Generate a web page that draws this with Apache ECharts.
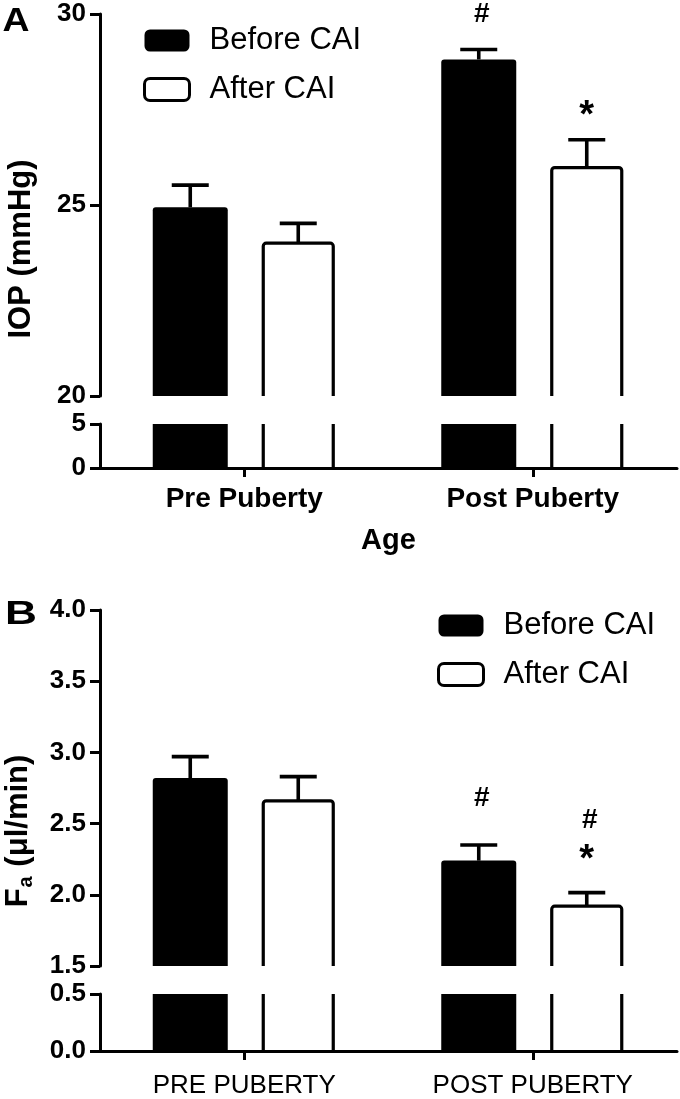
<!DOCTYPE html>
<html><head><meta charset="utf-8">
<script src="https://cdn.jsdelivr.net/npm/echarts@6/dist/echarts.min.js"></script>
<style>html,body{margin:0;padding:0;background:#fff}#c{width:680px;height:1099px}</style>
</head><body><div id="c"></div>
<script>
// ---------- data ----------
const categoriesA = ['Pre Puberty', 'Post Puberty'];
const iopBefore = [24.94, 28.81];
const iopBeforeErr = [0.58, 0.26];
const iopAfter = [24.0, 25.98];
const iopAfterErr = [0.52, 0.73];
const ticksA_top = [20, 25, 30];
const ticksA_bottom = [0, 5];

const categoriesB = ['PRE PUBERTY', 'POST PUBERTY'];
const faBefore = [2.82, 2.24];
const faBeforeErr = [0.15, 0.11];
const faAfter = [2.66, 1.92];
const faAfterErr = [0.17, 0.095];
const ticksB_top = [1.5, 2.0, 2.5, 3.0, 3.5, 4.0];
const ticksB_bottom = [0.0, 0.5];

const seriesNames = ['Before CAI', 'After CAI'];
// significance marks: [category index, series index, mark]
const marksA = [[1, 0, '#'], [1, 1, '*']];
const marksB = [[1, 0, '#'], [1, 1, '#'], [1, 1, '*']];

// ---------- styles ----------
const FONT = "'Liberation Sans', Arial, Helvetica, sans-serif";
const BAR_OFFSET = [-54, 54];
const BAR_WIDTH = [75, 70];
const CAP_W = 37;
const markOffsetA = [-35, -23];
const markOffsetB = [-47, -72, -32];

const grids = [
  { left: 100, top: 14, width: 577, height: 382 },
  { left: 100, top: 424, width: 577, height: 44 },
  { left: 100, top: 610, width: 577, height: 356 },
  { left: 100, top: 994, width: 577, height: 61 }
];

function pairs(vals, errs) {
  return vals.map((v, i) => errs ? [i, v, errs[i]] : [i, v]);
}

function barRender(si, topGrid) {
  return function (params, api) {
    const c = api.value(0), v = api.value(1);
    const top = api.coord([c, v]);
    const base = api.coord([c, 0]);
    const w = BAR_WIDTH[si];
    const r = topGrid ? [3, 3, 0, 0] : 0;
    const style = si === 0
      ? { fill: '#000', stroke: null }
      : { fill: '#fff', stroke: '#000', lineWidth: 3.2 };
    return {
      type: 'rect',
      shape: { x: top[0] + BAR_OFFSET[si] - w / 2, y: top[1], width: w, height: base[1] - top[1] + 6, r: r },
      style: style
    };
  };
}

function errRender(si) {
  return function (params, api) {
    const c = api.value(0), v = api.value(1), e = api.value(2);
    const p0 = api.coord([c, v]);
    const p1 = api.coord([c, v + e]);
    const x = p0[0] + BAR_OFFSET[si];
    const st = { stroke: '#000', lineWidth: 3.6 };
    return {
      type: 'group', children: [
        { type: 'line', shape: { x1: x, y1: p0[1], x2: x, y2: p1[1] }, style: st },
        { type: 'line', shape: { x1: x - CAP_W / 2, y1: p1[1], x2: x + CAP_W / 2, y2: p1[1] }, style: st }
      ]
    };
  };
}

function markRender(marks, offsets, vals, errs) {
  return function (params, api) {
    const i = params.dataIndex;
    const m = marks[i];
    const c = m[0], si = m[1];
    const v = vals[si][c] + errs[si][c];
    const p = api.coord([c, v]);
    const isStar = m[2] === '*';
    return {
      type: 'text',
      x: p[0] + BAR_OFFSET[si] + (isStar ? 0 : 3),
      y: p[1] + offsets[i],
      style: {
        text: m[2], fill: '#000', align: 'center', verticalAlign: 'middle',
        font: (isStar ? 'bold 38px ' : 'bold 28px ') + FONT
      }
    };
  };
}

function yAxis(gi, ticks, labelFmt) {
  const step = ticks.length > 1 ? ticks[1] - ticks[0] : 1;
  return {
    type: 'value', gridIndex: gi, z: 10,
    min: ticks[0], max: ticks[ticks.length - 1], interval: step,
    axisLine: { show: true, lineStyle: { color: '#000', width: 3 } },
    axisTick: { show: true, length: 10, lineStyle: { color: '#000', width: 3 } },
    splitLine: { show: false },
    axisLabel: {
      color: '#000', fontFamily: FONT, fontWeight: 'bold', fontSize: 26, margin: 14,
      formatter: labelFmt
    }
  };
}

function xAxis(gi, cats, shown, labelStyle, name) {
  return {
    type: 'category', gridIndex: gi, data: cats, show: shown, z: 10,
    axisLine: { show: true, lineStyle: { color: '#000', width: 3 } },
    axisTick: { show: true, alignWithLabel: true, length: 9, lineStyle: { color: '#000', width: 3 } },
    axisLabel: Object.assign({ color: '#000', fontFamily: FONT, interval: 0 }, labelStyle),
    name: name || '',
    nameLocation: 'middle',
    nameGap: 58,
    nameTextStyle: { color: '#000', fontFamily: FONT, fontWeight: 'bold', fontSize: 29 }
  };
}

const fmt0 = v => String(v);
const fmt1 = v => v.toFixed(1);

const series = [];
function addPanel(topG, botG, before, beforeErr, after, afterErr, marks, offsets) {
  [topG, botG].forEach(gi => {
    const isTop = gi === topG;
    [before, after].forEach((vals, si) => {
      series.push({
        type: 'custom', name: seriesNames[si], xAxisIndex: gi, yAxisIndex: gi,
        clip: true, renderItem: barRender(si, isTop),
        itemStyle: { color: si === 0 ? '#000' : '#fff' },
        encode: { x: 0, y: 1 },
        data: pairs(vals), silent: true
      });
    });
    if (isTop) {
      [[before, beforeErr], [after, afterErr]].forEach((pe, si) => {
        series.push({
          type: 'custom', name: seriesNames[si] + ' error', xAxisIndex: gi, yAxisIndex: gi,
          renderItem: errRender(si), encode: { x: 0, y: 1 },
          data: pairs(pe[0], pe[1]), silent: true
        });
      });
      series.push({
        type: 'custom', name: 'marks', xAxisIndex: gi, yAxisIndex: gi,
        renderItem: markRender(marks, offsets, [before, after], [beforeErr, afterErr]),
        encode: { x: 0, y: 1 },
        data: marks.map(m => [m[0], 0]), silent: true
      });
    }
  });
}
addPanel(0, 1, iopBefore, iopBeforeErr, iopAfter, iopAfterErr, marksA, markOffsetA);
addPanel(2, 3, faBefore, faBeforeErr, faAfter, faAfterErr, marksB, markOffsetB);

function legend(left, top) {
  return {
    left: left, top: top, orient: 'vertical', padding: 0,
    itemWidth: 45, itemHeight: 22, itemGap: 18, icon: 'roundRect',
    selectedMode: false,
    formatter: n => '{t|' + n + '}',
    textStyle: {
      color: '#000', fontFamily: FONT, fontSize: 31,
      rich: { t: { fontFamily: FONT, fontSize: 31, lineHeight: 30, padding: [0, 0, 0, 15], color: '#000' } }
    },
    data: [
      { name: seriesNames[0], itemStyle: { color: '#000', borderWidth: 0 } },
      { name: seriesNames[1], itemStyle: { color: '#fff', borderColor: '#000', borderWidth: 3 } }
    ]
  };
}

const option = {
  backgroundColor: '#fff',
  animation: false,
  grid: grids,
  xAxis: [
    xAxis(0, categoriesA, false, {}),
    xAxis(1, categoriesA, true, { fontWeight: 'bold', fontSize: 28, margin: 17 }, 'Age'),
    xAxis(2, categoriesB, false, {}),
    xAxis(3, categoriesB, true, { fontWeight: 'normal', fontSize: 26, margin: 22 })
  ],
  yAxis: [
    yAxis(0, ticksA_top, fmt0),
    yAxis(1, ticksA_bottom, fmt0),
    yAxis(2, ticksB_top, fmt1),
    yAxis(3, ticksB_bottom, fmt1)
  ],
  legend: [legend(143, 25), legend(437, 610)],
  series: series,
  graphic: [
    { type: 'text', x: 16, y: 22, scaleX: 1.1, style: { text: 'A', font: 'bold 34px ' + FONT, fill: '#000', align: 'center', verticalAlign: 'middle' } },
    { type: 'text', x: 21, y: 615, scaleX: 1.3, style: { text: 'B', font: 'bold 34px ' + FONT, fill: '#000', align: 'center', verticalAlign: 'middle' } },
    { type: 'text', x: 21, y: 249, rotation: Math.PI / 2,
      style: { text: 'IOP (mmHg)', font: 'bold 31px ' + FONT, fill: '#000', align: 'center', verticalAlign: 'middle' } },
    { type: 'text', x: 19, y: 831, rotation: Math.PI / 2,
      style: {
        text: '{f|F}{s|a}{t| (μl/min)}', align: 'center', verticalAlign: 'middle',
        rich: {
          f: { font: 'bold 31px ' + FONT, fill: '#000', lineHeight: 32, verticalAlign: 'top' },
          s: { font: 'bold 20px ' + FONT, fill: '#000', lineHeight: 20, padding: [13, 1, 0, 1], verticalAlign: 'top' },
          t: { font: 'bold 31px ' + FONT, fill: '#000', lineHeight: 32, verticalAlign: 'top' }
        }
      } }
  ]
};

const chart = echarts.init(document.getElementById('c'), null, { renderer: 'canvas' });
chart.setOption(option);
</script>
</body></html>
